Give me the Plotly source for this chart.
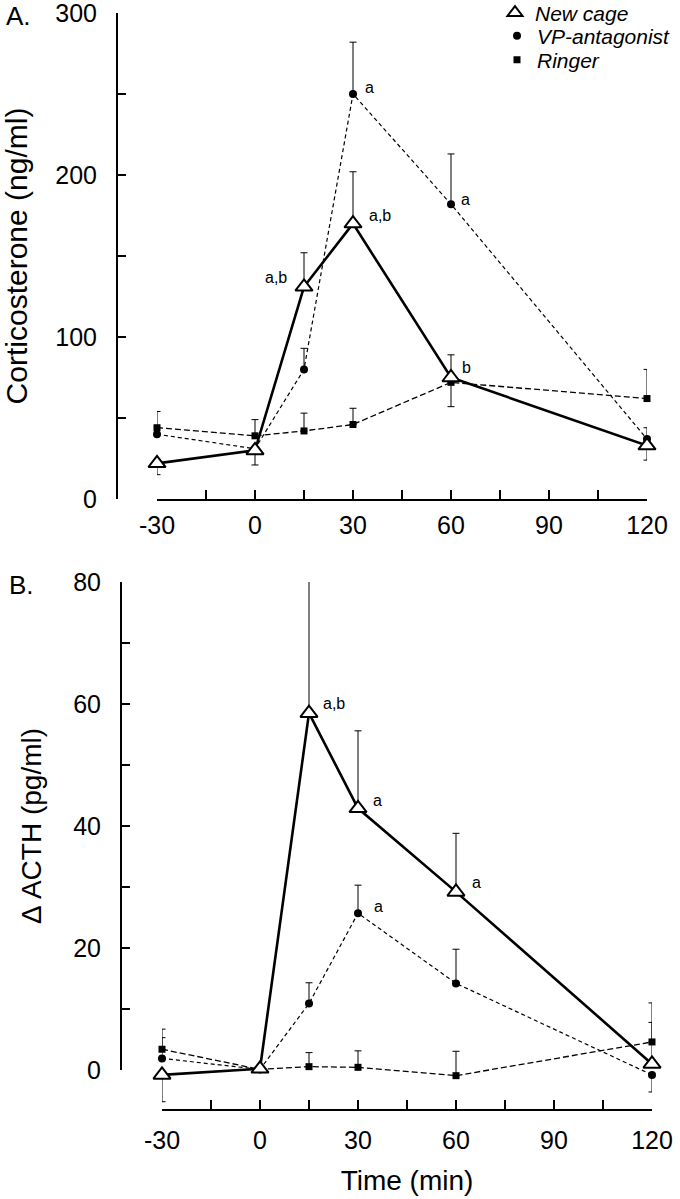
import plotly.graph_objects as go

# ---------------- data ----------------
times = [-30, 0, 15, 30, 60, 120]

# Panel A: Corticosterone (ng/ml)
cort_newcage = [22, 30, 131, 170, 75, 33]
cort_newcage_up = [0, 0, 21, 32, 0, 0]
cort_newcage_dn = [7, 9, 0, 0, 18, 9]
cort_vp = [40, 31, 80, 250, 182, 37]
cort_vp_up = [0, 0, 13, 32, 31, 7]
cort_vp_dn = [0, 0, 0, 0, 0, 0]
cort_ringer = [44, 39, 42, 46, 72, 62]
cort_ringer_up = [10, 10, 11, 10, 17, 18]
cort_ringer_dn = [0, 0, 0, 0, 0, 0]

# Panel B: delta ACTH (pg/ml)
acth_newcage = [-0.8, 0.2, 58.5, 42.9, 29.2, 1.0]
acth_newcage_up = [0, 0, 22.5, 12.7, 9.6, 10]
acth_newcage_dn = [4.4, 0, 0, 0, 0, 0]
acth_vp = [1.9, 0.1, 10.9, 25.7, 14.2, -0.8]
acth_vp_up = [3.4, 0, 3.4, 4.6, 5.6, 0]
acth_vp_dn = [0, 0, 0, 0, 0, 2.8]
acth_ringer = [3.4, 0.1, 0.55, 0.44, -0.93, 4.6]
acth_ringer_up = [3.3, 0, 2.3, 2.7, 4.0, 3.2]
acth_ringer_dn = [0, 0, 0, 0, 0, 0]

x_tickvals = [-30, 0, 30, 60, 90, 120]
x_ticktext = ["-30", "0", "30", "60", "90", "120"]
x_minor = [-15, 15, 45, 75, 105]
cort_tickvals = [0, 100, 200, 300]
cort_minor = [50, 150, 250]
acth_tickvals = [0, 20, 40, 60, 80]
acth_minor = [10, 30, 50, 70]

series_names = ["New cage", "VP-antagonist", "Ringer"]

# significance labels: (text, series, point index)
cort_labels = [("a", "VP-antagonist", 3), ("a", "VP-antagonist", 4),
               ("a,b", "New cage", 3), ("a,b", "New cage", 2), ("b", "New cage", 4)]
acth_labels = [("a,b", "New cage", 2), ("a", "New cage", 3),
               ("a", "New cage", 4), ("a", "VP-antagonist", 3)]

# ---------------- styling ----------------
W, H = 680, 1199
FONT = "Liberation Sans, Arial, Helvetica, sans-serif"
BLACK = "black"

styles = {
    "New cage": dict(line=dict(color=BLACK, width=2.6),
                     marker=dict(symbol="triangle-up", size=15, color="white",
                                 line=dict(color=BLACK, width=2))),
    "VP-antagonist": dict(line=dict(color=BLACK, width=1.2, dash="4px,3px"),
                          marker=dict(symbol="circle", size=8, color=BLACK)),
    "Ringer": dict(line=dict(color=BLACK, width=1.3, dash="6px,3px"),
                   marker=dict(symbol="square", size=7, color=BLACK)),
}

# label offsets (px) relative to point
cort_offsets = [(16, -7), (14, -5), (27, -8), (-28, -9), (15, -10)]
acth_offsets = [(25, -10), (19, -8), (20, -9), (20, -7)]

fig = go.Figure()

cort_data = {
    "New cage": (cort_newcage, cort_newcage_up, cort_newcage_dn),
    "VP-antagonist": (cort_vp, cort_vp_up, cort_vp_dn),
    "Ringer": (cort_ringer, cort_ringer_up, cort_ringer_dn),
}
acth_data = {
    "New cage": (acth_newcage, acth_newcage_up, acth_newcage_dn),
    "VP-antagonist": (acth_vp, acth_vp_up, acth_vp_dn),
    "Ringer": (acth_ringer, acth_ringer_up, acth_ringer_dn),
}

draw_order = ["Ringer", "VP-antagonist", "New cage"]

for data, xa, ya in [(cort_data, "x", "y"), (acth_data, "x2", "y2")]:
    for name in draw_order:
        vals, up, dn = data[name]
        st = styles[name]
        fig.add_trace(go.Scatter(
            x=times, y=vals, mode="lines+markers", name=name,
            xaxis=xa, yaxis=ya, showlegend=False, cliponaxis=False,
            line=st["line"], marker=st["marker"],
            error_y=dict(type="data", symmetric=False, array=up, arrayminus=dn,
                         color=BLACK, thickness=1, width=3.5),
            hoverinfo="skip",
        ))

# empty trace to bind the decorative ACTH axis
fig.add_trace(go.Scatter(x=[], y=[], xaxis="x2", yaxis="y3", showlegend=False,
                         hoverinfo="skip"))

# legend entries (marker only)
legend_ids = ["legend", "legend2", "legend3"]
for name, lg in zip(series_names, legend_ids):
    m = dict(styles[name]["marker"])
    if name == "New cage":
        m = dict(symbol="triangle-up", size=13, color="white", line=dict(color=BLACK, width=2))
    fig.add_trace(go.Scatter(x=[None], y=[None], mode="markers", name=name,
                             marker=m, showlegend=True, legend=lg, xaxis="x", yaxis="y"))

# significance annotations
annotations = []
for labels, offs, data, xa, ya in [(cort_labels, cort_offsets, cort_data, "x", "y"),
                                   (acth_labels, acth_offsets, acth_data, "x2", "y2")]:
    for (txt, ser, idx), (dx, dy) in zip(labels, offs):
        annotations.append(dict(
            text=txt, x=times[idx], y=data[ser][0][idx], xref=xa, yref=ya,
            xshift=dx, yshift=-dy, showarrow=False,
            font=dict(family=FONT, size=16, color=BLACK)))

for txt, (px, py) in [("A.", (18, 16)), ("B.", (21, 585))]:
    annotations.append(dict(text=txt, x=px / W, y=1 - py / H, xref="paper", yref="paper",
                            xanchor="center", yanchor="middle", showarrow=False,
                            font=dict(family=FONT, size=26, color=BLACK)))

tickfont = dict(family=FONT, size=25, color=BLACK)

common_x = dict(range=[-30, 120], showline=True, linecolor=BLACK, linewidth=2,
                ticks="inside", ticklen=9, tickwidth=1.6, tickcolor=BLACK,
                tickvals=x_tickvals, ticktext=x_ticktext,
                minor=dict(tickvals=x_minor, ticks="inside", ticklen=9, tickwidth=1.6,
                           tickcolor=BLACK),
                showgrid=False, zeroline=False, tickfont=tickfont, fixedrange=True,
                automargin=False, ticklabeloverflow="allow")

common_y = dict(showline=True, linecolor=BLACK, linewidth=2, ticks="inside", ticklen=8,
                tickwidth=1.6, tickcolor=BLACK, showgrid=False, zeroline=False,
                tickfont=tickfont, fixedrange=True, anchor="free", side="left",
                ticklabelstandoff=14, automargin=False, ticklabeloverflow="allow")

acth_min = -(1109 - 1070) * 80 / (1070 - 582)

fig.update_layout(
    width=W, height=H, autosize=False,
    margin=dict(l=0, r=0, t=0, b=0, autoexpand=False),
    paper_bgcolor="white", plot_bgcolor="rgba(0,0,0,0)",
    font=dict(family=FONT, color=BLACK),
    xaxis=dict(domain=[157 / W, 647 / W], anchor="y", ticklabelstandoff=3, **common_x),
    yaxis=dict(domain=[1 - 499 / H, 1 - 13 / H], range=[0, 300], position=117 / W,
               tickvals=cort_tickvals,
               minor=dict(tickvals=cort_minor, ticks="inside", ticklen=8, tickwidth=1.6,
                          tickcolor=BLACK),
               title=dict(text="Corticosterone (ng/ml)",
                          font=dict(family=FONT, size=30, color=BLACK), standoff=22),
               **common_y),
    xaxis2=dict(domain=[162 / W, 652 / W], anchor="y2", ticklabelstandoff=8,
                title=dict(text="Time (min)", font=dict(family=FONT, size=28, color=BLACK),
                           standoff=17), **common_x),
    yaxis2=dict(domain=[1 - 1109 / H, 1 - 582 / H], range=[acth_min, 80], anchor="x2",
                showline=False, showticklabels=False, ticks="", showgrid=False,
                zeroline=False, fixedrange=True, automargin=False),
    yaxis3=dict(domain=[1 - 1070 / H, 1 - 582 / H], range=[0, 80], position=121 / W,
                tickvals=acth_tickvals,
                minor=dict(tickvals=acth_minor, ticks="inside", ticklen=8, tickwidth=1.6,
                           tickcolor=BLACK),
                title=dict(text="Δ ACTH (pg/ml)",
                           font=dict(family=FONT, size=28, color=BLACK), standoff=22),
                **common_y),
    annotations=annotations,
    showlegend=True,
)

legend_font = dict(family=FONT, size=21, color=BLACK, style="italic")
legend_pos = [(495, 13), (497, 36), (497, 60)]
for lg, (lx, ly) in zip(legend_ids, legend_pos):
    fig.update_layout({lg: dict(x=lx / W, y=1 - ly / H, xanchor="left", yanchor="middle",
                                bgcolor="rgba(0,0,0,0)", borderwidth=0, font=legend_font,
                                itemclick=False, itemdoubleclick=False)})

fig.write_html("out.html", config={"displayModeBar": False, "staticPlot": True},
               post_script="document.body.style.margin='0';document.body.style.overflow='hidden';")
